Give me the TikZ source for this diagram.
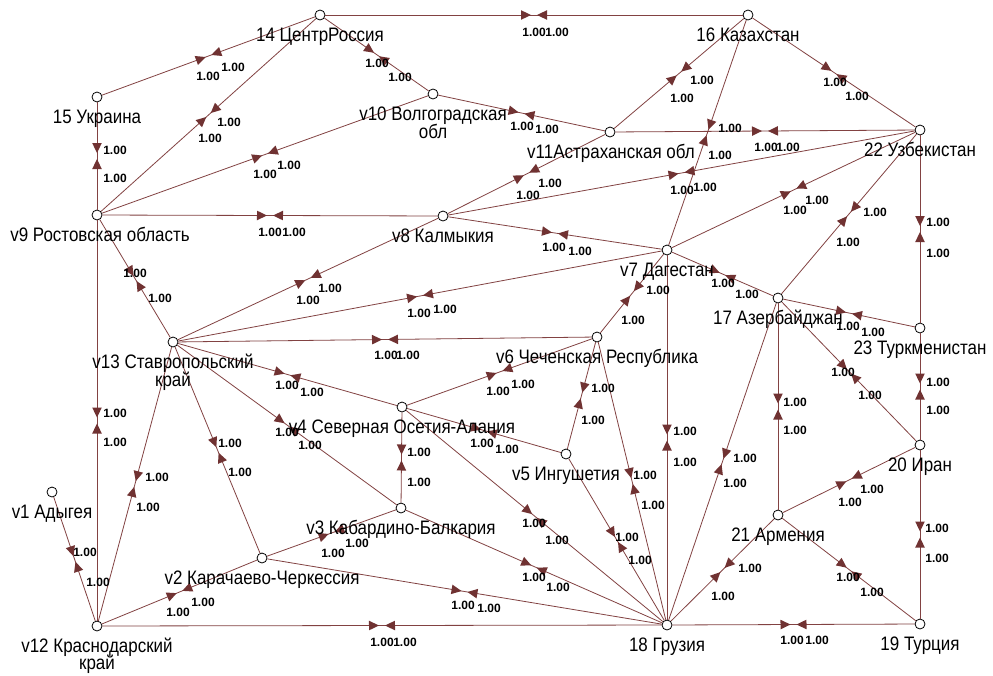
\documentclass[tikz,border=0pt]{standalone}
\usepackage{fontspec}
\setmainfont{Liberation Sans}
\newfontfamily\labfont[FakeStretch=0.87]{Liberation Sans}
\usetikzlibrary{decorations.markings}
\definecolor{arccol}{RGB}{130,66,66}
\definecolor{arhcol}{RGB}{112,50,50}
\begin{document}
\begin{tikzpicture}[x=1pt,y=-1pt,
  vtx/.style={circle,draw=black,fill=white,line width=0.8pt,minimum size=10pt,inner sep=0pt},
  vlab/.style={font=\labfont\fontsize{19.5}{19.5}\selectfont,inner sep=0pt,anchor=base,text=black},
  elab/.style={font=\bfseries\fontsize{12}{12}\selectfont,inner sep=0pt,text=black},
  arcline/.style={draw=arccol,line width=0.8pt,postaction={decorate},
    decoration={markings,mark=at position 0.5 with {
      \fill[arhcol] (-3pt,0pt) -- (-13pt,4.8pt) -- (-13pt,-4.8pt) -- cycle;
      \fill[arhcol] (3pt,0pt) -- (13pt,4.8pt) -- (13pt,-4.8pt) -- cycle;}}}
]
\useasboundingbox (0,0) rectangle (993,675);
\fill[white] (0,0) rectangle (993,675);

\foreach \n/\x/\y in {1/52/492, 2/262/558, 3/401/508, 4/402/407, 5/566/454, 6/597/337,
  7/667/250, 8/443/216, 9/97/215, 10/433/94, 11/610/132, 12/97/626, 13/173/342,
  14/320/15, 15/97/97, 16/748/15, 17/778/298, 18/667/625, 19/920/624, 20/920/445,
  21/778/515, 22/920/130, 23/920/328}
  \node[vtx] (n\n) at (\x,\y) {};

\foreach \a/\b in {14/15, 14/9, 14/16, 14/10, 15/9, 9/10, 9/8, 9/13, 9/12, 10/11,
  11/16, 11/22, 11/8, 16/22, 16/7, 22/8, 22/7, 22/17, 22/23, 8/7, 8/13, 7/13, 7/6,
  7/17, 7/18, 6/13, 6/4, 6/5, 6/18, 13/4, 13/3, 13/2, 13/12, 4/3, 4/5, 4/18, 3/2,
  3/18, 5/18, 2/12, 2/18, 12/1, 12/18, 17/23, 17/20, 17/21, 17/18, 23/20, 20/21,
  20/19, 21/19, 21/18, 18/19}
  \draw[arcline] (n\a) -- (n\b);

\foreach \x/\y [count=\i] in {208/76, 233/67, 210/138, 229/122, 534/32, 557/32,
  377/63, 400/77, 115/150, 115/178, 265/174, 289/165, 270/232, 294/232, 135/273,
  160/298, 115/413, 115/442, 522/126, 547/129, 702/80, 682/98, 766/147, 788/147,
  528/195, 550/183, 835/82, 857/96, 730/128, 720/155, 682/190, 705/187, 795/210,
  817/200, 875/212, 848/242, 938/222, 938/253, 554/247, 580/251, 308/300, 330/288,
  419/313, 445/309, 633/320, 658/290, 723/283, 747/294, 685/431, 685/462, 386/355,
  408/355, 498/391, 523/384, 603/388, 593/420, 645/475, 653/505, 287/385, 312/392,
  287/432, 310/445, 230/443, 240/472, 157/477, 148/507, 419/452, 419/482, 482/443,
  507/449, 534/523, 557/540, 333/553, 357/543, 534/577, 558/587, 627/537, 640/560,
  178/612, 203/602, 463/605, 489/608, 85/552, 98/582, 382/642, 405/642, 848/326,
  873/332, 843/372, 870/395, 795/402, 795/430, 745/458, 735/483, 938/382, 938/410,
  872/489, 850/502, 937/528, 937/558, 848/577, 872/592, 750/568, 723/596, 792/640,
  817/640}
  \node[elab] (el\i) at (\x,\y) {1.00};

\node[vlab] (t1) at (52,518) {v1 Адыгея};
\node[vlab] (t2) at (262,584) {v2 Карачаево-Черкессия};
\node[vlab] (t3) at (401,534) {v3 Кабардино-Балкария};
\node[vlab] (t4) at (402,433) {v4 Северная Осетия-Алания};
\node[vlab] (t5) at (566,480) {v5 Ингушетия};
\node[vlab] (t6) at (597,363) {v6 Чеченская Республика};
\node[vlab] (t7) at (667,276) {v7 Дагестан};
\node[vlab] (t8) at (443,242) {v8 Калмыкия};
\node[vlab] (t9) at (100,241) {v9 Ростовская область};
\node[vlab] (t10) at (433,120) {v10 Волгоградская};
\node[vlab] (t10b) at (433,138) {обл};
\node[vlab] (t11) at (611,158) {v11Астраханская обл};
\node[vlab] (t12) at (97,652) {v12 Краснодарский};
\node[vlab] (t12b) at (97,669) {край};
\node[vlab] (t13) at (173,368) {v13 Ставропольский};
\node[vlab] (t13b) at (173,386) {край};
\node[vlab] (t14) at (320,41) {14 ЦентрРоссия};
\node[vlab] (t15) at (97,123) {15 Украина};
\node[vlab] (t16) at (748,41) {16 Казахстан};
\node[vlab] (t17) at (778,324) {17 Азербайджан};
\node[vlab] (t18) at (667,651) {18 Грузия};
\node[vlab] (t19) at (920,650) {19 Турция};
\node[vlab] (t20) at (920,471) {20 Иран};
\node[vlab] (t21) at (778,541) {21 Армения};
\node[vlab] (t22) at (920,156) {22 Узбекистан};
\node[vlab] (t23) at (920,354) {23 Туркменистан};
\end{tikzpicture}
\end{document}
